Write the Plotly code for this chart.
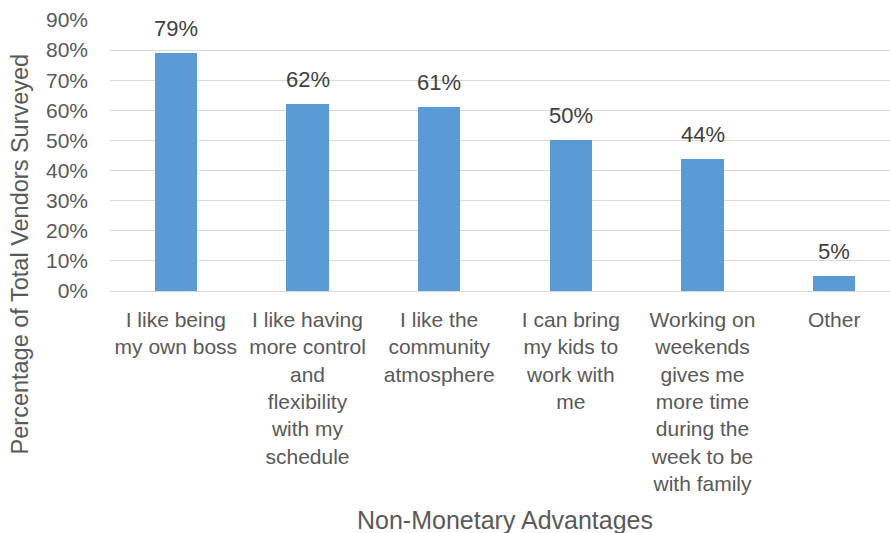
import plotly.graph_objects as go

# Survey results: non-monetary advantages reported by vendors
categories = [
    "I like being<br>my own boss",
    "I like having<br>more control<br>and<br>flexibility<br>with my<br>schedule",
    "I like the<br>community<br>atmosphere",
    "I can bring<br>my kids to<br>work with<br>me",
    "Working on<br>weekends<br>gives me<br>more time<br>during the<br>week to be<br>with family",
    "Other",
]
percentages = [79, 62, 61, 50, 44, 5]
y_ticks = [0, 10, 20, 30, 40, 50, 60, 70, 80, 90]
y_tick_labels = [f"{v}%" for v in y_ticks]

BAR_COLOR = "#5B9BD5"
TEXT_COLOR = "#595959"
LABEL_COLOR = "#404040"
GRID_COLOR = "#D9D9D9"
FONT = "Liberation Sans, Arial, sans-serif"

x_pos = list(range(len(categories)))

fig = go.Figure(
    go.Bar(
        x=x_pos,
        y=percentages,
        width=0.32,
        marker=dict(color=BAR_COLOR, line=dict(width=0)),
        hoverinfo="x+y",
    )
)

# value labels above each bar
value_labels = [
    dict(
        x=xv, y=v, xref="x", yref="y",
        text=f"{v}%",
        xanchor="center", yanchor="bottom",
        yshift=10,
        showarrow=False,
        font=dict(family=FONT, size=22, color=LABEL_COLOR),
    )
    for xv, v in zip(x_pos, percentages)
]

fig.update_layout(
    width=890,
    height=533,
    margin=dict(l=110, r=0, t=20, b=242),
    paper_bgcolor="white",
    plot_bgcolor="white",
    showlegend=False,
    bargap=0,
    xaxis=dict(
        tickmode="array",
        tickvals=x_pos,
        ticktext=categories,
        range=[-0.5, 5.424],
        showgrid=False,
        showline=False,
        ticks="",
        ticklabelstandoff=14,
        tickfont=dict(family=FONT, size=21, color=TEXT_COLOR),
        tickangle=0,
        zeroline=False,
    ),
    yaxis=dict(
        range=[0, 90],
        tickmode="array",
        tickvals=y_ticks,
        ticktext=y_tick_labels,
        showgrid=True,
        gridcolor=GRID_COLOR,
        gridwidth=1.3,
        zeroline=True,
        zerolinecolor=GRID_COLOR,
        zerolinewidth=1.3,
        showline=False,
        ticks="",
        ticklabelstandoff=21,
        tickfont=dict(family=FONT, size=21, color=TEXT_COLOR),
    ),
    annotations=value_labels + [
        dict(
            text="Percentage of Total Vendors Surveyed",
            xref="paper", yref="paper",
            x=-0.115, y=0.136,
            xanchor="center", yanchor="middle",
            textangle=-90,
            showarrow=False,
            font=dict(family=FONT, size=23.5, color=TEXT_COLOR),
        ),
        dict(
            text="Non-Monetary Advantages",
            xref="paper", yref="paper",
            x=0.506, y=-0.845,
            xanchor="center", yanchor="middle",
            showarrow=False,
            font=dict(family=FONT, size=25, color=TEXT_COLOR),
        ),
    ],
)

fig.write_html("out.html")
